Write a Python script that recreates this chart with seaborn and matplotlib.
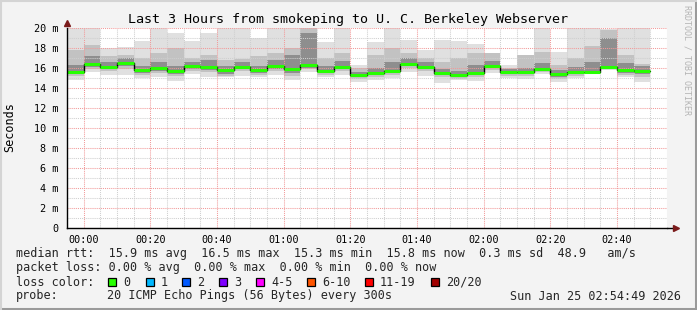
import numpy as np
import pandas as pd
import matplotlib
matplotlib.use("Agg")
import matplotlib.pyplot as plt
import seaborn as sns
from matplotlib.lines import Line2D
from matplotlib.patches import Rectangle

# ---------------- data ----------------
# start of each 5-minute step, in minutes after 00:00 (23:55 ... 02:45)
step_start = list(range(-5, 170, 5))
median = [15.65, 16.40, 16.15, 16.55, 15.80, 16.00, 15.75, 16.20, 16.15, 15.80,
          16.15, 15.80, 16.25, 15.90, 16.35, 15.75, 16.15, 15.30, 15.55, 15.75,
          16.45, 16.15, 15.55, 15.30, 15.55, 16.25, 15.60, 15.65, 15.95, 15.40,
          15.65, 15.65, 16.15, 15.80, 15.75]
rtt_min = [14.80, 15.60, 15.30, 15.30, 15.00, 15.10, 14.70, 15.40, 15.10, 15.10,
           15.20, 15.10, 15.30, 14.80, 15.60, 15.10, 15.30, 14.65, 14.80, 15.00,
           15.60, 15.20, 14.55, 14.80, 14.75, 15.55, 15.00, 14.90, 15.40, 14.65,
           15.00, 15.40, 15.80, 15.10, 14.65]
rtt_lower = [15.20, 15.90, 15.70, 15.90, 15.35, 15.50, 15.20, 15.75, 15.60, 15.25,
             15.75, 15.35, 15.75, 15.20, 15.90, 15.35, 15.75, 14.95, 15.15, 15.35,
             16.00, 15.70, 15.10, 14.95, 15.10, 15.85, 15.25, 15.25, 15.65, 14.95,
             15.25, 15.50, 15.95, 15.35, 15.15]
rtt_core_lo = [15.40, 16.10, 15.90, 16.20, 15.55, 15.70, 15.40, 15.95, 15.85, 15.45,
               15.90, 15.55, 15.95, 15.50, 16.05, 15.50, 15.90, 15.10, 15.30, 15.50,
               16.20, 15.90, 15.30, 15.10, 15.30, 16.00, 15.40, 15.40, 15.80, 15.10,
               15.40, 15.55, 16.05, 15.55, 15.40]
rtt_core_hi = [16.30, 17.20, 16.60, 17.00, 16.20, 16.60, 16.20, 16.60, 16.80, 16.20,
               16.60, 16.20, 16.80, 17.30, 19.50, 16.20, 16.70, 15.60, 16.00, 16.60,
               17.00, 16.60, 15.90, 15.70, 16.30, 16.70, 15.90, 16.00, 16.50, 15.80,
               16.10, 16.60, 19.00, 16.50, 16.20]
rtt_upper = [17.80, 18.30, 17.20, 17.30, 17.00, 17.50, 18.00, 17.00, 17.30, 16.80,
             16.90, 17.20, 17.50, 18.00, 20.00, 17.00, 17.50, 16.00, 17.30, 18.00,
             17.50, 17.00, 16.60, 17.00, 17.50, 17.50, 16.00, 17.30, 17.60, 16.30,
             17.00, 18.20, 19.80, 17.30, 16.40]
rtt_max = [20.0, 20.0, 18.0, 18.1, 18.75, 20.0, 19.5, 18.75, 19.5, 20.0,
           20.0, 19.05, 20.0, 20.0, 20.0, 18.65, 20.0, 16.3, 18.6, 20.0,
           18.8, 17.8, 18.8, 18.7, 18.4, 17.4, 16.3, 17.2, 20.0, 17.6,
           20.0, 20.0, 19.9, 20.0, 20.0]
loss_pings = [0] * 35

x_tick_minutes = [0, 20, 40, 60, 80, 100, 120, 140, 160]
x_tick_labels = ["00:00", "00:20", "00:40", "01:00", "01:20", "01:40", "02:00", "02:20", "02:40"]
y_ticks = list(range(0, 21, 2))
y_tick_labels = ["0"] + [f"{v} m" for v in y_ticks[1:]]

loss_labels = ["0", "1", "2", "3", "4-5", "6-10", "11-19", "20/20"]
loss_colors = ["#26ff00", "#00b8ff", "#0059ff", "#7e00ff", "#ff00ff", "#ff5500", "#ff0000", "#a10000"]

# ---------------- style ----------------
sns.set_style("white")
plt.rcParams["font.family"] = ["DejaVu Sans Mono"]
BG = "#f3f3f3"
MONO = 8.5

df = pd.DataFrame({"start": step_start, "median": median, "min": rtt_min, "lower": rtt_lower,
                   "core_lo": rtt_core_lo, "core_hi": rtt_core_hi, "upper": rtt_upper,
                   "max": rtt_max, "loss": loss_pings})

fig = plt.figure(figsize=(6.97, 3.10), dpi=100, facecolor=BG)
ax = fig.add_axes([67 / 697, 82 / 310, 600 / 697, 200 / 310])
ax.set_facecolor("white")

# smoke
ax.bar(df["start"], df["max"] - df["min"], bottom=df["min"], width=5, align="edge",
       color="#e0e0e0", linewidth=0, zorder=1)
ax.bar(df["start"], df["upper"] - df["lower"], bottom=df["lower"], width=5, align="edge",
       color="#c2c2c2", linewidth=0, zorder=1.1)
ax.bar(df["start"], df["core_hi"] - df["core_lo"], bottom=df["core_lo"], width=5, align="edge",
       color="#8e8e8e", linewidth=0, zorder=1.2)

# median: black step line, then loss-coloured segments
step_df = pd.DataFrame({"t": list(df["start"]) + [df["start"].iloc[-1] + 5],
                        "rtt": list(df["median"]) + [df["median"].iloc[-1]]})
sns.lineplot(data=step_df, x="t", y="rtt", drawstyle="steps-post", color="black",
             linewidth=1.0, ax=ax, zorder=3)
seg_colors = [loss_colors[0] if l == 0 else loss_colors[-1] for l in df["loss"]]
ax.hlines(df["median"], df["start"], df["start"] + 5, colors=seg_colors, linewidth=2.2, zorder=4)

ax.set_xlim(-5, 175)
ax.set_ylim(0, 20)
ax.set_xlabel("")
ax.set_ylabel("")

ax.set_xticks(x_tick_minutes)
ax.set_xticklabels(x_tick_labels)
ax.set_xticks(list(range(-5, 176, 5)), minor=True)
ax.set_yticks(y_ticks)
ax.set_yticklabels(y_tick_labels)
ax.set_yticks(list(range(0, 21)), minor=True)

ax.set_axisbelow(False)
ax.grid(which="minor", color="#cfcfcf", linestyle=(0, (1, 1)), linewidth=0.75)
ax.grid(which="major", color="#f29a9a", linestyle=(0, (1, 1)), linewidth=0.75)

for s in ["top", "right"]:
    ax.spines[s].set_visible(False)
for s in ["left", "bottom"]:
    ax.spines[s].set_color("black")
    ax.spines[s].set_linewidth(1.0)
    ax.spines[s].set_zorder(5)

ax.tick_params(axis="both", which="major", length=3, width=0.8, labelsize=7.3,
               colors="black", direction="out")
ax.tick_params(axis="x", which="major", pad=2, color="#e06060")
ax.tick_params(axis="y", which="major", pad=3)
ax.tick_params(which="minor", length=0)

# axis extension + arrows
ax.add_line(Line2D([1.0, 1.012], [0, 0], transform=ax.transAxes, color="black",
                   linewidth=1.0, clip_on=False))
ax.plot([1.015], [0], marker=">", markersize=4.5, color="#7a1a1a", transform=ax.transAxes,
        clip_on=False, zorder=6)
ax.plot([0], [1.025], marker="^", markersize=4.5, color="#7a1a1a", transform=ax.transAxes,
        clip_on=False, zorder=6)

# titles and side texts
fig.text(348 / 697, 1 - 19 / 310, "Last 3 Hours from smokeping to U. C. Berkeley Webserver",
         ha="center", va="center", fontsize=9.6, color="black")
fig.text(10 / 697, 1 - 127 / 310, "Seconds", rotation=90, ha="center", va="center",
         fontsize=MONO, color="black")
fig.text(687 / 697, 1 - 60 / 310, "RRDTOOL / TOBI OETIKER", rotation=270, ha="center",
         va="center", fontsize=6.0, color="#b4b4b4")

# legend lines
lx = 16 / 697
fig.text(lx, 1 - 254 / 310,
         "median rtt:  15.9 ms avg  16.5 ms max  15.3 ms min  15.8 ms now  0.3 ms sd  48.9   am/s",
         ha="left", va="center", fontsize=MONO)
fig.text(lx, 1 - 268 / 310,
         "packet loss: 0.00 % avg  0.00 % max  0.00 % min  0.00 % now",
         ha="left", va="center", fontsize=MONO)
fig.text(lx, 1 - 282 / 310, "loss color:", ha="left", va="center", fontsize=MONO)
box_x = [108, 146, 182, 219, 256, 307, 365, 431]
for bx, lab, col in zip(box_x, loss_labels, loss_colors):
    fig.patches.append(Rectangle((bx / 697, (310 - 286) / 310), 8 / 697, 8 / 310,
                                 transform=fig.transFigure, facecolor=col,
                                 edgecolor="black", linewidth=0.9))
    fig.text((bx + 15) / 697, 1 - 282 / 310, lab, ha="left", va="center", fontsize=MONO)
fig.text(lx, 1 - 296 / 310, "probe:", ha="left", va="center", fontsize=MONO)
fig.text(107 / 697, 1 - 296 / 310, "20 ICMP Echo Pings (56 Bytes) every 300s",
         ha="left", va="center", fontsize=MONO)
fig.text(681 / 697, 1 - 296 / 310, "Sun Jan 25 02:54:49 2026",
         ha="right", va="center", fontsize=MONO)

# outer frame (rrdtool style bevel)
fig.add_artist(Line2D([0, 1], [1.5 / 310, 1.5 / 310], transform=fig.transFigure,
                      color="#9a9a9a", linewidth=2.2))
fig.add_artist(Line2D([1 - 1.5 / 697, 1 - 1.5 / 697], [0, 1], transform=fig.transFigure,
                      color="#9a9a9a", linewidth=2.2))
fig.add_artist(Line2D([0, 1], [1 - 1 / 310, 1 - 1 / 310], transform=fig.transFigure,
                      color="#d4d4d4", linewidth=1.5))
fig.add_artist(Line2D([1 / 697, 1 / 697], [0, 1], transform=fig.transFigure,
                      color="#d4d4d4", linewidth=1.5))

fig.savefig("out.png", dpi=100, facecolor=BG)
